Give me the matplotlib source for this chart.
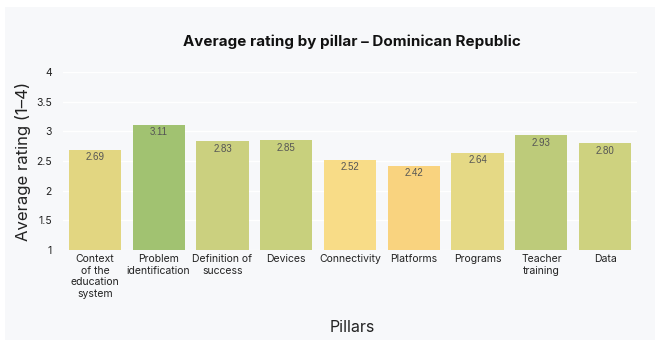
import matplotlib.pyplot as plt
from matplotlib.patches import Rectangle

pillars = ['Context\nof the\neducation\nsystem', 'Problem\nidentification', 'Definition of\nsuccess',
           'Devices', 'Connectivity', 'Platforms', 'Programs', 'Teacher\ntraining', 'Data']
ratings = [2.69, 3.11, 2.83, 2.85, 2.52, 2.42, 2.64, 2.93, 2.80]
colores = ['#e2d681', '#a1c271', '#cbd07f', '#c8d07d', '#f8dc87', '#f9d37f', '#e5d985', '#bdcb7a', '#ced27f']
yticks = [1, 1.5, 2, 2.5, 3, 3.5, 4]
ytick_labels = ['1', '1.5', '2', '2.5', '3', '3.5', '4']

plt.rcParams['font.family'] = ['Inter', 'DejaVu Sans']

fig = plt.figure(figsize=(6.61, 3.43), dpi=100, facecolor='white')
fig.patches.append(Rectangle((5 / 661, 3 / 343), 650 / 661, 333 / 343, transform=fig.transFigure,
                             facecolor='#f7f8fa', edgecolor='none', zorder=-5))
ax = fig.add_axes([63 / 661, 1 - 250 / 343, 574 / 661, 178 / 343])
ax.set_facecolor('#f7f8fa')

x = list(range(len(ratings)))
barras = ax.bar(x, [r - 1 for r in ratings], bottom=1, width=0.82, color=colores, zorder=2)
for xi, r in zip(x, ratings):
    ax.text(xi, r - 0.04, f'{r:.2f}', ha='center', va='top', fontsize=7,
            color='#555555', family=['Liberation Sans'], zorder=3)

ax.set_xlim(-0.5, len(ratings) - 0.5)
ax.set_ylim(1, 4)
ax.set_yticks(yticks)
ax.set_yticklabels(ytick_labels)
ax.set_xticks(x)
ax.set_xticklabels(pillars, fontsize=7.5, color='#222222', linespacing=1.2)
ax.tick_params(axis='y', labelsize=7.5, labelcolor='#222222', length=0, pad=8)
ax.tick_params(axis='x', length=0, pad=3)
ax.grid(axis='y', color='white', linewidth=1, zorder=1)
ax.set_axisbelow(True)
for s in ax.spines.values():
    s.set_visible(False)

ax.set_ylabel('Average rating (1–4)', fontsize=12, color='#222222', labelpad=4)
fig.text(352 / 661, 1 - 328 / 343, 'Pillars', ha='center', va='center', fontsize=11.5, color='#222222')
fig.text(352 / 661, 1 - 42 / 343, 'Average rating by pillar – Dominican Republic', ha='center', va='center',
         fontsize=10.9, fontweight='bold', color='#111111')

plt.savefig('out.png', dpi=100, facecolor='white')
